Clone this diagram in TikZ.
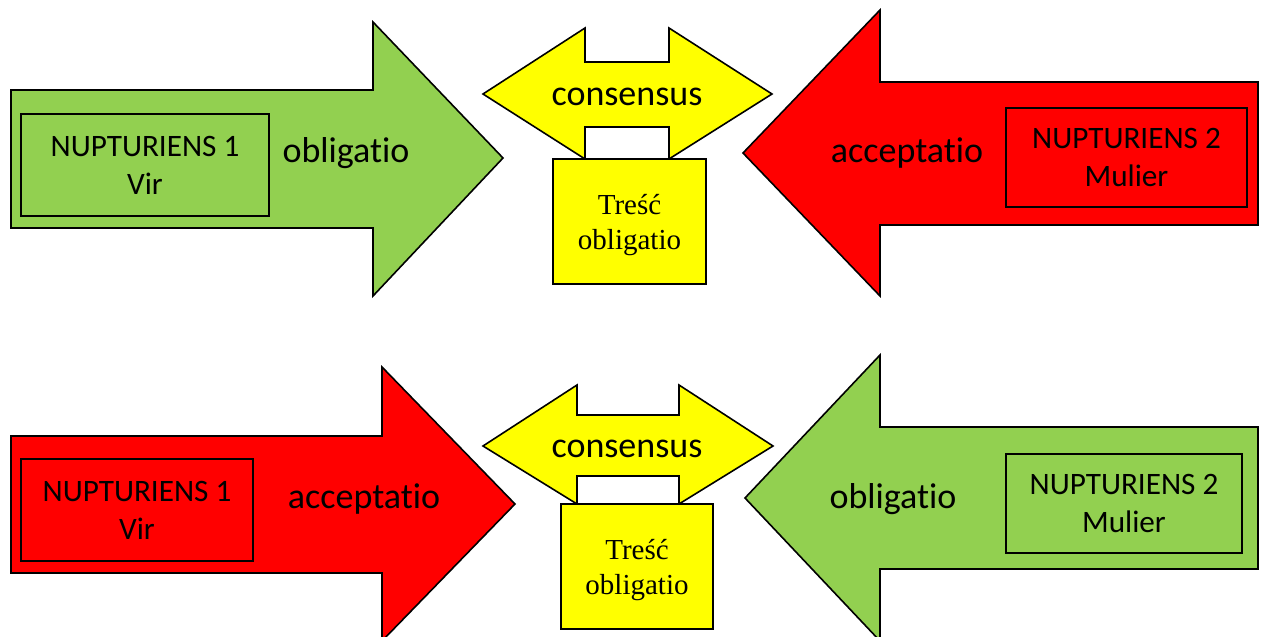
\documentclass[tikz,border=0pt]{standalone}
\usepackage{fontspec}
\setmainfont{Carlito}[Ligatures = NoCommon]
\newfontfamily\timesfont{Liberation Serif}
\usepackage{tikz}

\definecolor{agreen}{HTML}{92D050}
\definecolor{ared}{HTML}{FF0000}
\definecolor{ayellow}{HTML}{FFFF00}

\begin{document}
\begin{tikzpicture}[x = 0.5pt, y = -0.5pt,
    outline/.style = {draw = black, line width = 0.8pt},
    party/.style = {outline, align = center, inner sep = 0pt,
        font = \fontsize{15.6}{19}\selectfont},
    word/.style = {font = \fontsize{18}{22}\selectfont},
    content/.style = {outline, fill = ayellow, inner sep = 0pt},
    contenttext/.style = {align = center, inner sep = 0pt,
        font = \timesfont\fontsize{14.5}{17.5}\selectfont}]
    \useasboundingbox (0,0) rectangle (1266,637);
    \clip (0,0) rectangle (1266,637);
    % upper row
    \draw [outline, fill = agreen] (11,90) -- (373,90) -- (373,22) -- (503,158) -- (373,296) -- (373,228) -- (11,228) -- cycle;
    \draw [outline, fill = ayellow] (483,94) -- (585,28) -- (585,62) -- (669,62) -- (669,28) -- (772,94) -- (669,159) -- (669,127) -- (585,127) -- (585,159) -- cycle;
    \draw [outline, fill = ared] (743,153) -- (880,10) -- (880,82) -- (1258,82) -- (1258,225) -- (880,225) -- (880,296) -- cycle;
    \node (vir1) at (145,165) [party, minimum width = 124pt, minimum height = 51pt] {NUPTURIENS 1\\Vir};
    \node (obl1) at (346,153) [word] {obligatio};
    \node (cons1) at (627,97) [word] {consensus};
    \node (tresc1) at (629.5,221.5) [content, minimum width = 76.5pt, minimum height = 62.5pt] {};
    \node (tekst1) at ([yshift = -2pt]tresc1.center) [contenttext] {Treść\\obligatio};
    \node (acc1) at (907,153) [word] {acceptatio};
    \node (mul1) at (1126.5,157.5) [party, minimum width = 120.5pt, minimum height = 49.5pt] {NUPTURIENS 2\\Mulier};
    % lower row
    \draw [outline, fill = ared] (11,436) -- (382,436) -- (382,367) -- (515,504) -- (382,641) -- (382,573) -- (11,573) -- cycle;
    \draw [outline, fill = ayellow] (483,446) -- (577,385) -- (577,415) -- (679,415) -- (679,385) -- (773,446) -- (679,504) -- (679,476) -- (577,476) -- (577,504) -- cycle;
    \draw [outline, fill = agreen] (745,498) -- (880,355) -- (880,427) -- (1258,427) -- (1258,569) -- (880,569) -- (880,641) -- cycle;
    \node (vir2) at (137,510) [party, minimum width = 116pt, minimum height = 51pt] {NUPTURIENS 1\\Vir};
    \node (acc2) at (364,499) [word] {acceptatio};
    \node (cons2) at (627,449) [word] {consensus};
    \node (tresc2) at (637,566.5) [content, minimum width = 76pt, minimum height = 62.5pt] {};
    \node (tekst2) at ([yshift = -2pt]tresc2.center) [contenttext] {Treść\\obligatio};
    \node (obl2) at (893,499) [word] {obligatio};
    \node (mul2) at (1124,503.5) [party, minimum width = 118pt, minimum height = 49.5pt] {NUPTURIENS 2\\Mulier};
\end{tikzpicture}
\end{document}
